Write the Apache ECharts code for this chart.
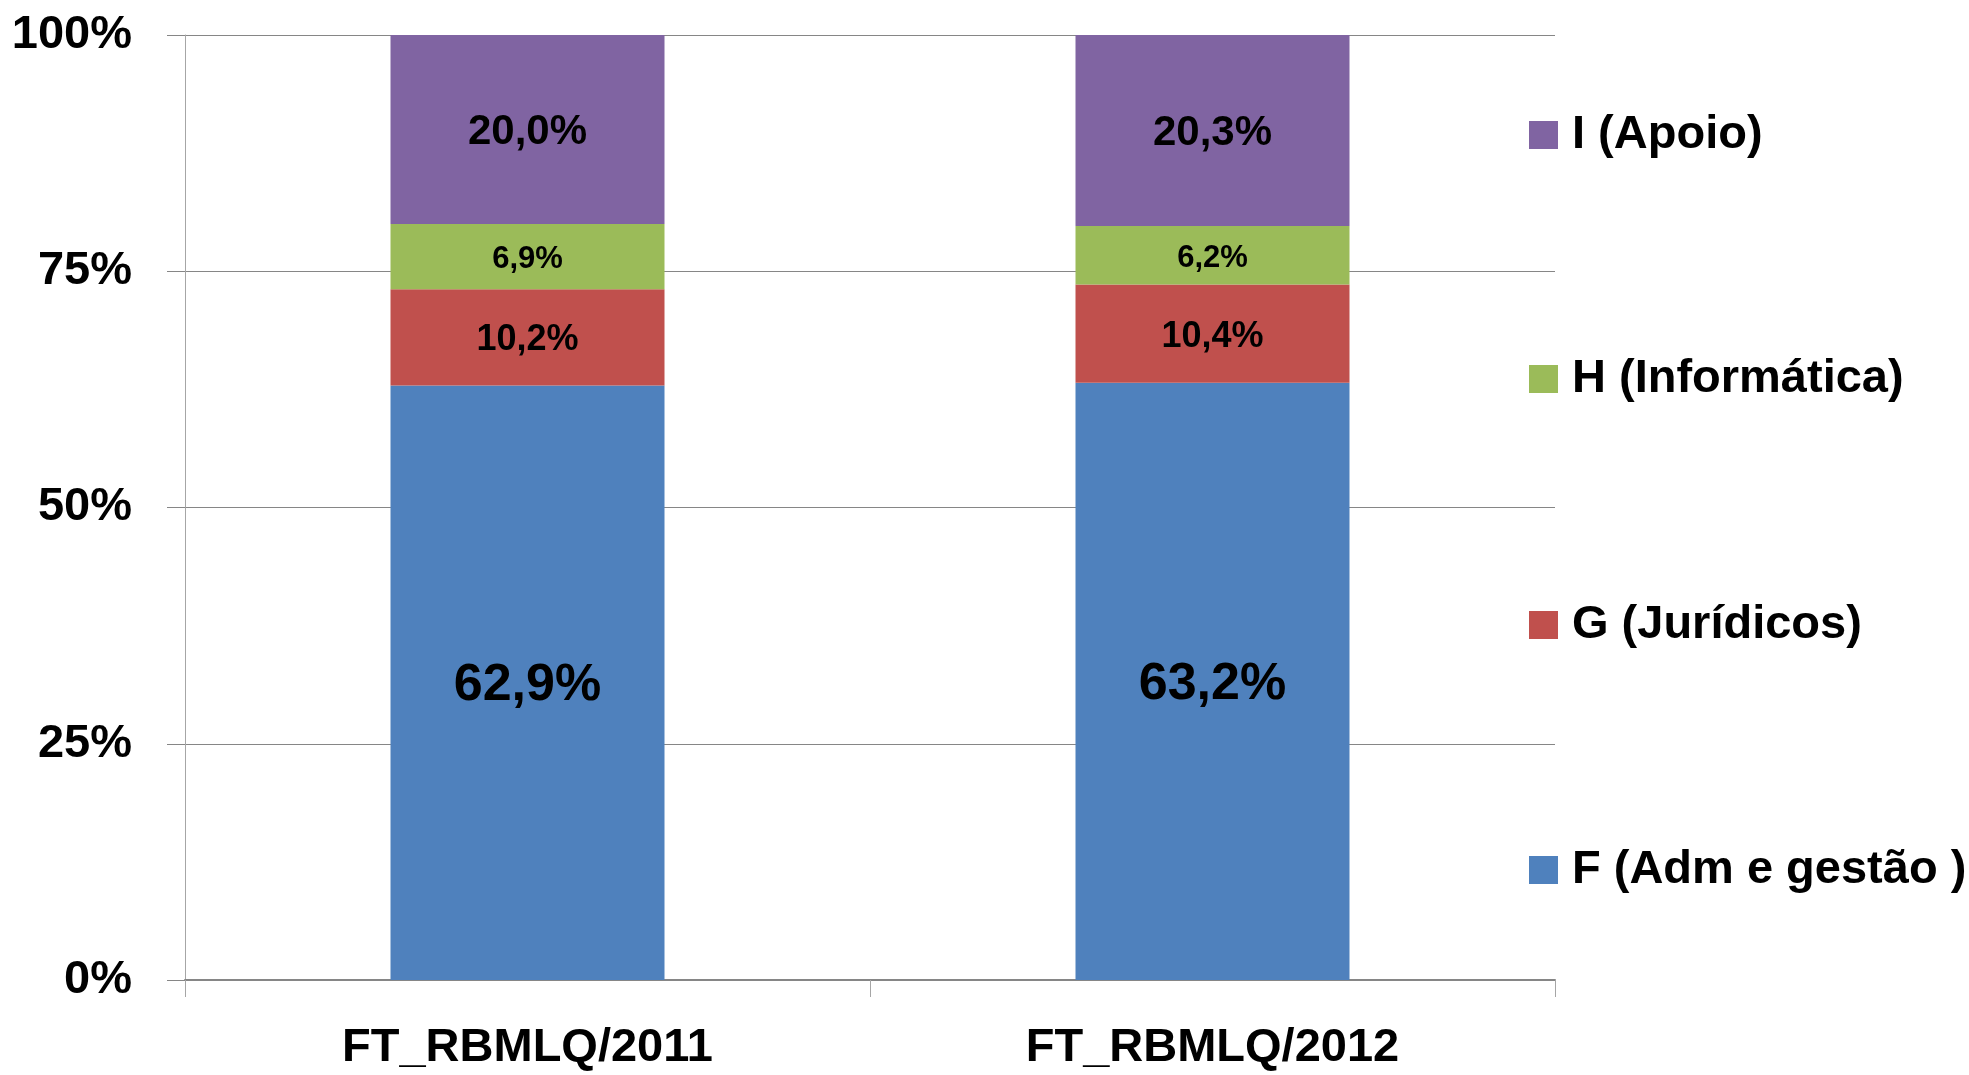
<!DOCTYPE html>
<html>
<head>
<meta charset="utf-8">
<script src="https://cdn.jsdelivr.net/npm/echarts@6/dist/echarts.min.js"></script>
<style>
html,body{margin:0;padding:0;background:#fff;}
#c{width:1969px;height:1075px;}
</style>
</head>
<body>
<div id="c"></div>
<script>
var categories = ['FT_RBMLQ/2011', 'FT_RBMLQ/2012'];
var seriesNames = ['F (Adm e gestão )', 'G (Jurídicos)', 'H (Informática)', 'I (Apoio)'];
var valuesF = [62.9, 63.2];
var valuesG = [10.2, 10.4];
var valuesH = [6.9, 6.2];
var valuesI = [20.0, 20.3];
var yTicks = [0, 25, 50, 75, 100];

var colors = ['#4F81BD', '#C0504D', '#9BBB59', '#8064A2'];
var labelSizes = [52, 36, 31, 42];
var FONT = '"Liberation Sans", Arial, sans-serif';

function fmt(v) { return v.toFixed(1).replace('.', ',') + '%'; }

var allValues = [valuesF, valuesG, valuesH, valuesI];
var series = allValues.map(function (vals, i) {
  return {
    name: seriesNames[i],
    type: 'bar',
    stack: 'total',
    barWidth: '40%',
    data: vals,
    itemStyle: { color: colors[i] },
    label: {
      show: true,
      position: 'inside',
      offset: [0, 3],
      formatter: function (p) { return fmt(p.value); },
      color: '#000',
      fontFamily: FONT,
      fontWeight: 'bold',
      fontSize: labelSizes[i]
    },
    clip: true
  };
});

var legendCenters = [133, 377, 623, 868];
var legendOrder = [3, 2, 1, 0];
var legends = legendOrder.map(function (si, k) {
  return {
    data: [seriesNames[si]],
    left: 1529,
    top: legendCenters[k] - 22,
    padding: 0,
    itemWidth: 29,
    itemHeight: 28,
    itemGap: 0,
    icon: 'rect',
    selectedMode: false,
    textStyle: {
      fontFamily: FONT,
      fontWeight: 'bold',
      fontSize: 47,
      lineHeight: 48,
      color: '#000',
      padding: [0, 0, 0, 9]
    }
  };
});

var option = {
  animation: false,
  backgroundColor: '#fff',
  grid: { left: 185, right: 414, top: 35, bottom: 95, containLabel: false },
  legend: legends,
  xAxis: {
    type: 'category',
    data: categories,
    boundaryGap: true,
    axisLine: { show: true, lineStyle: { color: '#868686', width: 2 } },
    axisTick: { show: true, length: 17, interval: 0, lineStyle: { color: '#a6a6a6', width: 1 } },
    axisLabel: {
      margin: 45,
      fontFamily: FONT,
      fontWeight: 'bold',
      fontSize: 47,
      color: '#000'
    },
    splitLine: { show: false }
  },
  yAxis: {
    type: 'value',
    min: 0,
    max: 100,
    interval: 25,
    axisLine: { show: true, lineStyle: { color: '#a6a6a6', width: 1 } },
    axisTick: { show: true, length: 18, lineStyle: { color: '#868686', width: 1 } },
    axisLabel: {
      margin: 53,
      fontFamily: FONT,
      fontWeight: 'bold',
      fontSize: 47,
      color: '#000',
      formatter: function (v) { return yTicks.indexOf(v) >= 0 ? v + '%' : ''; }
    },
    splitLine: { show: true, lineStyle: { color: '#868686', width: 1 } }
  },
  series: series
};

var chart = echarts.init(document.getElementById('c'), null, { renderer: 'canvas' });
chart.setOption(option);
</script>
</body>
</html>
